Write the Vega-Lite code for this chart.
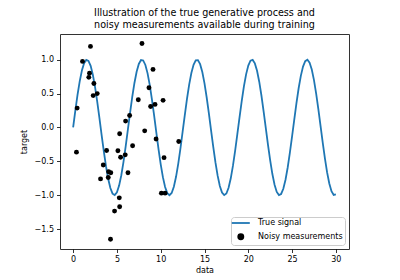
{
  "$schema": "https://vega.github.io/schema/vega-lite/v6.json",
  "autosize": "none",
  "width": 289,
  "height": 215,
  "padding": {"left": 60, "top": 34, "right": 51, "bottom": 31},
  "background": "white",
  "config": {
    "font": "DejaVu Sans",
    "view": {"stroke": "#333333", "strokeWidth": 1},
    "axis": {
      "domain": false, "grid": false, "ticks": true, "tickColor": "black", "tickSize": 3.5, "tickWidth": 0.8,
      "labelFont": "DejaVu Sans", "labelFontSize": 8, "labelColor": "black", "labelPadding": 3,
      "titleFont": "DejaVu Sans", "titleFontSize": 8, "titleFontWeight": "normal", "titleColor": "black"
    },
    "legend": {"labelFont": "DejaVu Sans", "labelFontSize": 8, "labelColor": "black"}
  },
  "title": {
    "text": ["Illustration of the true generative process and", "noisy measurements available during training"],
    "font": "DejaVu Sans", "fontSize": 9.6, "fontWeight": "normal", "color": "black", "lineHeight": 12, "offset": 4
  },
  "datasets": {
    "signal": [
      {"data": 0, "target": 0}, {"data": 0.25, "target": 0.2474}, {"data": 0.5, "target": 0.4794}, {"data": 0.75, "target": 0.6816},
      {"data": 1, "target": 0.8415}, {"data": 1.25, "target": 0.949}, {"data": 1.5, "target": 0.9975}, {"data": 1.75, "target": 0.984},
      {"data": 2, "target": 0.9093}, {"data": 2.25, "target": 0.7781}, {"data": 2.5, "target": 0.5985}, {"data": 2.75, "target": 0.3817},
      {"data": 3, "target": 0.1411}, {"data": 3.25, "target": -0.1082}, {"data": 3.5, "target": -0.3508}, {"data": 3.75, "target": -0.5716},
      {"data": 4, "target": -0.7568}, {"data": 4.25, "target": -0.895}, {"data": 4.5, "target": -0.9775}, {"data": 4.75, "target": -0.9993},
      {"data": 5, "target": -0.9589}, {"data": 5.25, "target": -0.8589}, {"data": 5.5, "target": -0.7055}, {"data": 5.75, "target": -0.5083},
      {"data": 6, "target": -0.2794}, {"data": 6.25, "target": -0.0332}, {"data": 6.5, "target": 0.2151}, {"data": 6.75, "target": 0.45},
      {"data": 7, "target": 0.657}, {"data": 7.25, "target": 0.8231}, {"data": 7.5, "target": 0.938}, {"data": 7.75, "target": 0.9946},
      {"data": 8, "target": 0.9894}, {"data": 8.25, "target": 0.9228}, {"data": 8.5, "target": 0.7985}, {"data": 8.75, "target": 0.6247},
      {"data": 9, "target": 0.4121}, {"data": 9.25, "target": 0.1743}, {"data": 9.5, "target": -0.0752}, {"data": 9.75, "target": -0.3195},
      {"data": 10, "target": -0.544}, {"data": 10.25, "target": -0.7347}, {"data": 10.5, "target": -0.8797}, {"data": 10.75, "target": -0.97},
      {"data": 11, "target": -1}, {"data": 11.25, "target": -0.9678}, {"data": 11.5, "target": -0.8755}, {"data": 11.75, "target": -0.7288},
      {"data": 12, "target": -0.5366}, {"data": 12.25, "target": -0.3111}, {"data": 12.5, "target": -0.0663}, {"data": 12.75, "target": 0.1826},
      {"data": 13, "target": 0.4202}, {"data": 13.25, "target": 0.6316}, {"data": 13.5, "target": 0.8038}, {"data": 13.75, "target": 0.926},
      {"data": 14, "target": 0.9906}, {"data": 14.25, "target": 0.9936}, {"data": 14.5, "target": 0.9349}, {"data": 14.75, "target": 0.818},
      {"data": 15, "target": 0.6503}, {"data": 15.25, "target": 0.4421}, {"data": 15.5, "target": 0.2065}, {"data": 15.75, "target": -0.042},
      {"data": 16, "target": -0.2879}, {"data": 16.25, "target": -0.5159}, {"data": 16.5, "target": -0.7118}, {"data": 16.75, "target": -0.8634},
      {"data": 17, "target": -0.9614}, {"data": 17.25, "target": -0.9996}, {"data": 17.5, "target": -0.9756}, {"data": 17.75, "target": -0.891},
      {"data": 18, "target": -0.751}, {"data": 18.25, "target": -0.5643}, {"data": 18.5, "target": -0.3425}, {"data": 18.75, "target": -0.0994},
      {"data": 19, "target": 0.1499}, {"data": 19.25, "target": 0.3898}, {"data": 19.5, "target": 0.6055}, {"data": 19.75, "target": 0.7836},
      {"data": 20, "target": 0.913}, {"data": 20.25, "target": 0.9855}, {"data": 20.5, "target": 0.9968}, {"data": 20.75, "target": 0.9462},
      {"data": 21, "target": 0.8367}, {"data": 21.25, "target": 0.6751}, {"data": 21.5, "target": 0.4716}, {"data": 21.75, "target": 0.2388},
      {"data": 22, "target": -0.0089}, {"data": 22.25, "target": -0.256}, {"data": 22.5, "target": -0.4872}, {"data": 22.75, "target": -0.6881},
      {"data": 23, "target": -0.8462}, {"data": 23.25, "target": -0.9517}, {"data": 23.5, "target": -0.9981}, {"data": 23.75, "target": -0.9824},
      {"data": 24, "target": -0.9056}, {"data": 24.25, "target": -0.7725}, {"data": 24.5, "target": -0.5914}, {"data": 24.75, "target": -0.3735},
      {"data": 25, "target": -0.1324}, {"data": 25.25, "target": 0.117}, {"data": 25.5, "target": 0.3591}, {"data": 25.75, "target": 0.5787},
      {"data": 26, "target": 0.7626}, {"data": 26.25, "target": 0.8989}, {"data": 26.5, "target": 0.9794}, {"data": 26.75, "target": 0.9989},
      {"data": 27, "target": 0.9564}, {"data": 27.25, "target": 0.8544}, {"data": 27.5, "target": 0.6992}, {"data": 27.75, "target": 0.5006},
      {"data": 28, "target": 0.2709}, {"data": 28.25, "target": 0.0243}, {"data": 28.5, "target": -0.2238}, {"data": 28.75, "target": -0.4579},
      {"data": 29, "target": -0.6636}, {"data": 29.25, "target": -0.8281}, {"data": 29.5, "target": -0.941}, {"data": 29.75, "target": -0.9955},
      {"data": 30, "target": -0.988}
    ],
    "noisy": [
      {"data": 0.46, "target": 0.286}, {"data": 0.38, "target": -0.365}, {"data": 1.07, "target": 0.975}, {"data": 1.98, "target": 1.197},
      {"data": 1.87, "target": 0.8}, {"data": 1.79, "target": 0.74}, {"data": 2.37, "target": 0.65}, {"data": 2.29, "target": 0.47},
      {"data": 2.75, "target": 0.5}, {"data": 3.82, "target": -0.34}, {"data": 5.11, "target": -0.345}, {"data": 5.31, "target": -0.094},
      {"data": 5.99, "target": 0.094}, {"data": 6.45, "target": 0.177}, {"data": 5.42, "target": -0.44}, {"data": 5.95, "target": -0.405},
      {"data": 6.79, "target": -0.27}, {"data": 7.44, "target": 0.41}, {"data": 7.86, "target": 1.24}, {"data": 8.17, "target": -0.05},
      {"data": 8.66, "target": 0.586}, {"data": 9.12, "target": 0.857}, {"data": 8.85, "target": 0.31}, {"data": 9.35, "target": 0.34},
      {"data": 9.47, "target": -0.17}, {"data": 10.27, "target": 0.4}, {"data": 10.38, "target": -0.446}, {"data": 12.06, "target": -0.207},
      {"data": 3.44, "target": -0.554}, {"data": 3.13, "target": -0.76}, {"data": 4.01, "target": -0.74}, {"data": 4.05, "target": -0.655},
      {"data": 4.3, "target": -0.67}, {"data": 6.26, "target": -0.67}, {"data": 5.27, "target": -1.04}, {"data": 5.31, "target": -1.17},
      {"data": 4.73, "target": -1.235}, {"data": 4.27, "target": -1.65}, {"data": 10.08, "target": -0.97}, {"data": 10.5, "target": -0.97}
    ]
  },
  "layer": [
    {
      "data": {"name": "signal"},
      "mark": {"type": "line", "strokeWidth": 1.8, "clip": true},
      "encoding": {
        "x": {"field": "data", "type": "quantitative", "title": "data",
              "scale": {"domain": [-1.5, 31.5], "nice": false, "zero": false},
              "axis": {"values": [0, 5, 10, 15, 20, 25, 30], "format": "d", "titlePadding": 3}},
        "y": {"field": "target", "type": "quantitative", "title": "target",
              "scale": {"domain": [-1.795, 1.38], "nice": false, "zero": false},
              "axis": {"values": [-1.5, -1, -0.5, 0, 0.5, 1], "format": ".1f", "titlePadding": 6}},
        "color": {
          "datum": "True signal",
          "scale": {"domain": ["True signal", "Noisy measurements"], "range": ["#1f77b4", "black"]},
          "legend": {
            "title": null, "orient": "bottom-right", "offset": 4,
            "fillColor": "white", "strokeColor": "#cccccc", "cornerRadius": 3, "padding": 2,
            "symbolSize": 100, "symbolOffset": 3.8, "rowPadding": 2.7, "labelOffset": 13.3,
            "encode": {
              "symbols": {
                "update": {
                  "shape": {"signal": "datum.value === 'True signal' ? 'stroke' : 'circle'"},
                  "stroke": {"signal": "datum.value === 'True signal' ? '#1f77b4' : 'transparent'"},
                  "fill": {"signal": "datum.value === 'True signal' ? 'transparent' : 'black'"},
                  "strokeWidth": {"value": 1.8},
                  "size": {"signal": "datum.value === 'True signal' ? 324 : 26"},
                  "opacity": {"value": 1}
                }
              }
            }
          }
        }
      }
    },
    {
      "data": {"name": "noisy"},
      "mark": {"type": "point", "filled": true, "opacity": 1, "size": 24},
      "encoding": {
        "x": {"field": "data", "type": "quantitative"},
        "y": {"field": "target", "type": "quantitative"},
        "color": {"datum": "Noisy measurements"}
      }
    }
  ]
}
